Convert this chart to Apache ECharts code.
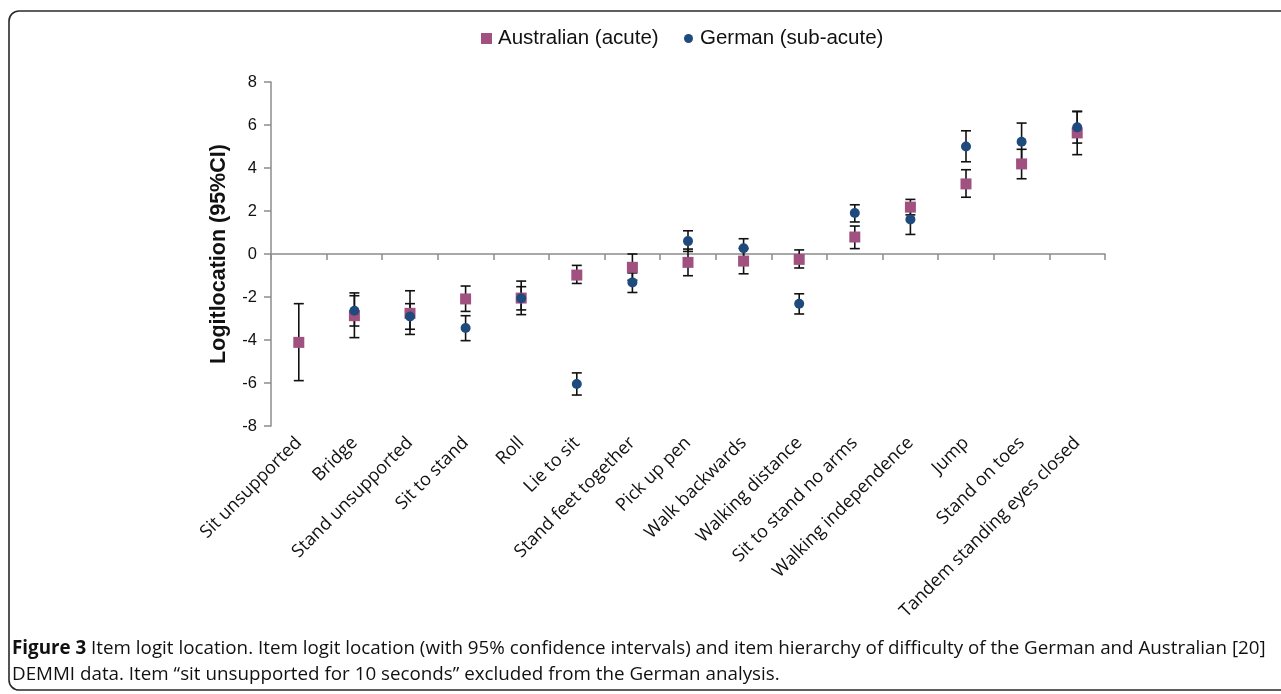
<!DOCTYPE html>
<html>
<head>
<meta charset="utf-8">
<script src="https://cdn.jsdelivr.net/npm/echarts@6/dist/echarts.min.js"></script>
<style>
html,body{margin:0;padding:0;background:#fff;}
#c{width:1281px;height:694px;}
</style>
</head>
<body>
<div id="c"></div>
<script>
const categories = ['Sit unsupported','Bridge','Stand unsupported','Sit to stand','Roll','Lie to sit','Stand feet together','Pick up pen','Walk backwards','Walking distance','Sit to stand no arms','Walking independence','Jump','Stand on toes','Tandem standing eyes closed'];
const ausValues = [-4.11,-2.87,-2.76,-2.09,-2.05,-0.98,-0.62,-0.39,-0.33,-0.25,0.79,2.18,3.26,4.19,5.63];
const ausLow    = [-5.89,-3.89,-3.74,-2.67,-2.60,-1.37,-1.22,-1.01,-0.92,-0.65,0.25,1.82,2.64,3.50,4.62];
const ausHigh   = [-2.31,-1.81,-1.71,-1.49,-1.52,-0.53,0.00,0.23,0.26,0.19,1.30,2.54,3.92,4.87,6.64];
const gerValues = [null,-2.64,-2.91,-3.44,-2.06,-6.05,-1.32,0.60,0.27,-2.31,1.91,1.61,5.00,5.22,5.89];
const gerLow    = [null,-3.35,-3.50,-4.03,-2.82,-6.56,-1.79,0.12,-0.17,-2.79,1.49,0.91,4.29,4.35,5.16];
const gerHigh   = [null,-1.94,-2.31,-2.87,-1.26,-5.53,-0.88,1.08,0.71,-1.85,2.29,2.30,5.73,6.09,6.62];
const yTicks = [-8,-6,-4,-2,0,2,4,6,8];

const AUS = 'Australian (acute)';
const GER = 'German (sub-acute)';
const ausColor = '#A1517F';
const gerColor = '#1F4A7E';

function errData(lo, hi){
  const out = [];
  for (let i=0;i<lo.length;i++){ if (lo[i]!==null) out.push([i, lo[i], hi[i]]); }
  return out;
}
function renderErr(params, api){
  const x = api.value(0);
  const lo = api.coord([x, api.value(1)]);
  const hi = api.coord([x, api.value(2)]);
  const hw = 5;
  const st = {stroke:'#111', lineWidth:1.6};
  return {type:'group', children:[
    {type:'line', shape:{x1:lo[0],y1:lo[1],x2:hi[0],y2:hi[1]}, style:st},
    {type:'line', shape:{x1:lo[0]-hw,y1:lo[1],x2:lo[0]+hw,y2:lo[1]}, style:st},
    {type:'line', shape:{x1:hi[0]-hw,y1:hi[1],x2:hi[0]+hw,y2:hi[1]}, style:st}
  ]};
}

const chart = echarts.init(document.getElementById('c'), null, {renderer:'canvas'});
chart.setOption({
  animation:false,
  backgroundColor:'#fff',
  textStyle:{fontFamily:'Liberation Sans, Arial, sans-serif'},
  legend:[
    {data:[{name:AUS, icon:'rect'}], left:481, top:28, padding:0, itemWidth:11, itemHeight:11,
     textStyle:{fontSize:20.5, color:'#111', fontFamily:'Liberation Sans, Arial, sans-serif', padding:[0,0,0,1]}},
    {data:[{name:GER, icon:'circle'}], left:684, top:28, padding:0, itemWidth:9, itemHeight:9,
     textStyle:{fontSize:20.5, color:'#111', fontFamily:'Liberation Sans, Arial, sans-serif', padding:[0,0,0,2]}}
  ],
  grid:{left:271, right:176, top:82, bottom:268, containLabel:false},
  xAxis:[
    {type:'category', data:categories, boundaryGap:true,
     axisLine:{onZero:true, lineStyle:{color:'#8c8c8c', width:1.5}},
     axisTick:{show:true, interval:0, length:6, inside:false, lineStyle:{color:'#8c8c8c', width:1.5}},
     axisLabel:{show:false}, splitLine:{show:false}},
    {type:'category', data:categories, boundaryGap:true, position:'bottom',
     axisLine:{show:false, onZero:false}, axisTick:{show:false}, splitLine:{show:false},
     axisLabel:{show:true, rotate:45, interval:0, margin:14, fontSize:18, color:'#111',
       fontFamily:'Open Sans, sans-serif'}}
  ],
  yAxis:{type:'value', min:-8, max:8, interval:2,
    name:'Logitlocation (95%CI)', nameLocation:'middle', nameGap:41, nameRotate:90,
    nameTextStyle:{fontSize:21.5, fontWeight:'bold', color:'#111', fontFamily:'Liberation Sans, Arial, sans-serif'},
    axisLine:{show:true, lineStyle:{color:'#8c8c8c', width:1.5}},
    axisTick:{show:true, length:7, lineStyle:{color:'#8c8c8c', width:1.5}},
    axisLabel:{fontSize:16.5, color:'#111', margin:14, fontFamily:'Liberation Sans, Arial, sans-serif',
      customValues: yTicks},
    splitLine:{show:false}},
  series:[
    {type:'custom', name:'ausErr', xAxisIndex:0, renderItem:renderErr, data:errData(ausLow, ausHigh), z:1,
      encode:{x:0, y:[1,2]}, silent:true},
    {type:'custom', name:'gerErr', xAxisIndex:0, renderItem:renderErr, data:errData(gerLow, gerHigh), z:1,
      encode:{x:0, y:[1,2]}, silent:true},
    {type:'scatter', name:AUS, xAxisIndex:0, data:ausValues, symbol:'rect', symbolSize:11,
      itemStyle:{color:ausColor, opacity:1}, z:3},
    {type:'scatter', name:GER, xAxisIndex:0, data:gerValues, symbol:'circle', symbolSize:10,
      itemStyle:{color:gerColor, opacity:1}, z:4}
  ],
  graphic:[
    {type:'rect', shape:{x:9, y:11, width:1320, height:679, r:10}, z:0,
      style:{fill:'none', stroke:'#2a2a2a', lineWidth:1.6}, silent:true},
    {type:'text', left:12, top:639, z:10,
      style:{text:'{b|Figure 3} Item logit location. Item logit location (with 95% confidence intervals) and item hierarchy of difficulty of the German and Australian [20]',
        rich:{b:{fontWeight:'bold', fontSize:18.8, fontFamily:'Open Sans, sans-serif', fill:'#111'}},
        font:'18.8px "Open Sans", sans-serif', fill:'#111'}},
    {type:'text', left:12, top:665, z:10,
      style:{text:'DEMMI data. Item \u201csit unsupported for 10 seconds\u201d excluded from the German analysis.',
        font:'18.8px "Open Sans", sans-serif', fill:'#111'}}
  ]
});
</script>
</body>
</html>
